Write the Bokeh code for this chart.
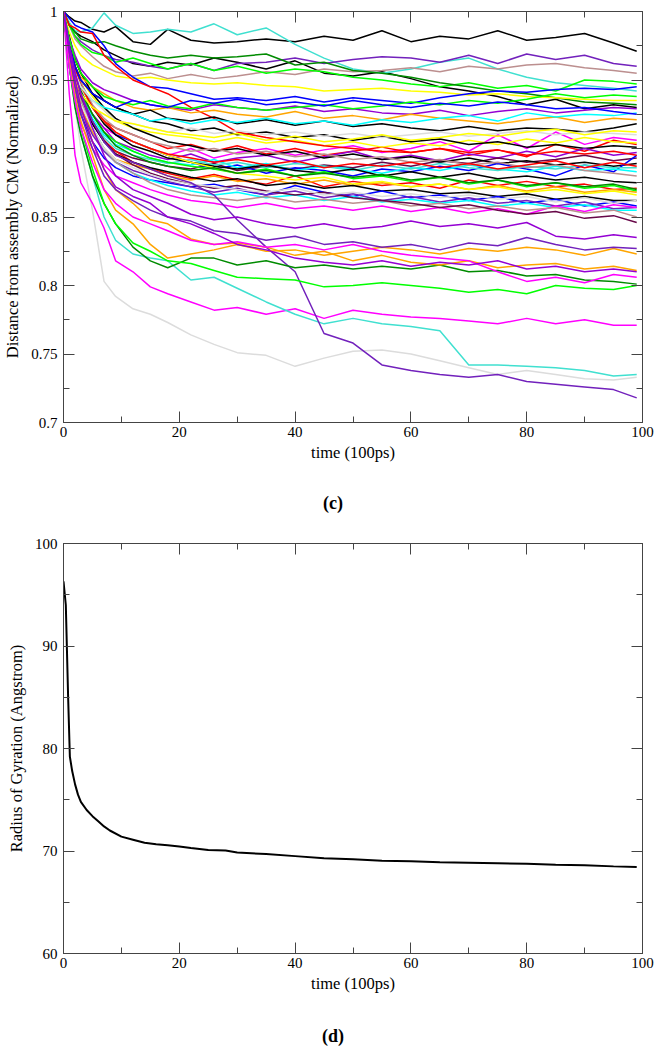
from bokeh.plotting import figure
from bokeh.models import Range1d, FixedTicker, LinearAxis, Div, NumeralTickFormatter
from bokeh.layouts import column
from bokeh.embed import file_html
from bokeh.resources import INLINE

# ---------------- data: panel (c) ----------------
time_c = [0, 1, 2, 3, 5, 7, 9, 12, 15, 18, 22, 26, 30, 35, 40, 45, 50, 55,
          60, 65, 70, 75, 80, 85, 90, 95, 99]

# upper group
black_a = [1, .996, .993, .992, .987, .985, .989, .978, .976, .987, .979, .977, .978, .98, .978, .982, .979, .986, .978, .982, .98, .986, .979, .981, .984, .977, .971]
black_b = [1, .99, .985, .982, .978, .972, .968, .962, .96, .963, .961, .966, .963, .958, .964, .955, .953, .956, .951, .945, .942, .938, .932, .936, .929, .932, .930]
turq_a = [1, .992, .986, .985, .988, .999, .99, .984, .985, .987, .985, .991, .983, .988, .976, .966, .958, .955, .958, .963, .966, .958, .952, .948, .946, .944, .942]
indigo_a = [1, .99, .982, .978, .972, .968, .965, .963, .96, .958, .962, .957, .962, .963, .966, .962, .965, .967, .966, .963, .968, .962, .969, .965, .968, .962, .96]
brown_a = [1, .99, .98, .975, .967, .96, .956, .953, .955, .951, .954, .951, .953, .956, .954, .958, .956, .957, .959, .956, .96, .958, .961, .962, .959, .957, .955]
green_a = [1, .99, .982, .976, .97, .968, .963, .966, .962, .958, .962, .957, .96, .955, .958, .956, .952, .95, .947, .945, .948, .944, .946, .942, .95, .949, .947]
green4_a = [1, .99, .985, .98, .977, .978, .975, .971, .968, .966, .968, .966, .967, .969, .961, .963, .957, .955, .952, .948, .945, .942, .94, .937, .934, .933, .932]
yellow_a = [1, .985, .975, .968, .961, .957, .953, .951, .952, .95, .948, .947, .948, .946, .945, .942, .943, .944, .942, .941, .939, .94, .938, .937, .936, .935, .935]
blue_a = [1, .995, .99, .988, .985, .975, .962, .952, .945, .944, .94, .936, .937, .935, .938, .934, .937, .935, .933, .937, .94, .942, .941, .943, .944, .943, .945]
red_a = [1, .99, .988, .985, .984, .968, .96, .95, .945, .94, .93, .922, .912, .908, .905, .902, .9, .898, .897, .9, .897, .899, .895, .898, .896, .898, .895]
violet_a = [1, .98, .968, .958, .948, .943, .94, .935, .932, .93, .928, .932, .93, .928, .931, .927, .929, .926, .925, .928, .924, .927, .929, .926, .928, .93, .929]
orange_a = [1, .975, .96, .952, .945, .94, .935, .93, .928, .93, .926, .928, .925, .923, .927, .922, .924, .921, .925, .922, .92, .918, .921, .923, .919, .922, .921]
black_c = [1, .975, .96, .95, .94, .935, .93, .925, .928, .922, .92, .923, .918, .921, .917, .92, .916, .918, .915, .913, .916, .913, .915, .914, .912, .915, .918]
cyan_a = [1, .97, .955, .945, .935, .93, .928, .925, .92, .922, .918, .921, .919, .922, .918, .92, .917, .921, .919, .922, .924, .92, .926, .923, .925, .924, .926]
green_b = [1, .98, .965, .955, .945, .938, .935, .932, .935, .931, .929, .933, .93, .928, .93, .932, .929, .931, .934, .932, .935, .933, .936, .94, .937, .939, .938]
grey_a = [1, .97, .955, .945, .935, .928, .92, .918, .915, .912, .915, .911, .913, .91, .912, .909, .911, .908, .91, .912, .909, .911, .913, .91, .912, .911, .91]
yellow_b = [1, .965, .95, .94, .93, .925, .92, .918, .915, .912, .91, .908, .911, .906, .909, .905, .907, .91, .906, .908, .911, .909, .912, .914, .91, .913, .912]
blue_b = [1, .975, .96, .95, .94, .935, .93, .935, .932, .93, .935, .933, .936, .932, .934, .931, .935, .932, .93, .933, .931, .934, .932, .929, .93, .927, .925]

# dense middle group
magenta_m = [1, .975, .955, .94, .925, .915, .91, .905, .9, .895, .9, .893, .897, .9, .895, .899, .902, .897, .9, .905, .898, .91, .9, .912, .903, .908, .906]
red_m1 = [1, .98, .96, .948, .93, .92, .915, .91, .905, .9, .903, .898, .902, .896, .9, .895, .898, .901, .897, .9, .895, .899, .894, .903, .898, .906, .903]
yellow_m = [1, .978, .96, .95, .938, .928, .92, .915, .912, .91, .908, .905, .908, .904, .906, .902, .905, .901, .904, .902, .906, .903, .907, .904, .908, .905, .904]
black_m1 = [1, .982, .965, .955, .945, .935, .93, .925, .92, .918, .913, .915, .91, .912, .908, .91, .906, .909, .905, .907, .903, .905, .901, .903, .9, .902, .901]
violet_m = [1, .975, .955, .942, .925, .915, .905, .9, .895, .892, .896, .89, .893, .895, .89, .894, .898, .892, .895, .891, .896, .893, .898, .894, .9, .895, .897]
maroon_m1 = [1, .97, .95, .935, .918, .905, .898, .893, .89, .887, .885, .889, .884, .887, .885, .888, .886, .89, .887, .891, .889, .893, .89, .892, .895, .891, .893]
black_m2 = [1, .98, .965, .955, .94, .93, .922, .915, .91, .905, .902, .898, .9, .895, .898, .893, .896, .892, .894, .89, .893, .889, .891, .888, .89, .887, .889]
blue_m1 = [1, .975, .958, .945, .93, .92, .91, .905, .9, .895, .89, .885, .888, .882, .886, .884, .88, .885, .883, .887, .884, .889, .885, .88, .888, .883, .895]
cyan_m1 = [1, .972, .952, .94, .922, .91, .903, .898, .893, .89, .888, .892, .886, .889, .884, .887, .885, .882, .886, .884, .888, .885, .883, .887, .884, .885, .883]
turq_m = [1, .97, .95, .936, .92, .908, .9, .895, .892, .889, .892, .888, .89, .886, .889, .887, .884, .888, .885, .889, .886, .884, .887, .885, .888, .886, .886]
black_m3 = [1, .975, .958, .946, .93, .918, .91, .902, .898, .893, .89, .887, .885, .888, .884, .882, .885, .88, .883, .879, .882, .878, .88, .877, .879, .876, .875]
red_m2 = [1, .972, .95, .935, .918, .906, .898, .89, .885, .882, .878, .881, .877, .874, .88, .872, .876, .873, .875, .871, .877, .873, .876, .872, .874, .87, .871]
green_m = [1, .97, .952, .94, .925, .912, .905, .898, .893, .89, .887, .885, .882, .885, .88, .883, .878, .88, .876, .879, .874, .877, .872, .875, .871, .873, .869]
orange_m = [1, .968, .945, .93, .912, .9, .892, .888, .885, .88, .877, .88, .876, .878, .874, .877, .873, .875, .872, .874, .87, .873, .869, .872, .868, .87, .868]
yellow_m2 = [1, .975, .955, .945, .93, .92, .912, .905, .9, .895, .89, .886, .882, .88, .877, .879, .874, .876, .872, .874, .87, .872, .868, .87, .867, .869, .866]
black_m4 = [1, .97, .948, .935, .918, .905, .896, .89, .886, .883, .879, .876, .878, .873, .875, .871, .873, .869, .87, .867, .868, .865, .867, .863, .865, .862, .862]
blue_m2 = [1, .965, .94, .925, .905, .893, .886, .88, .877, .875, .872, .874, .87, .866, .873, .868, .865, .869, .864, .866, .862, .865, .86, .863, .858, .861, .858]
indigo_m = [1, .97, .945, .928, .91, .898, .89, .884, .88, .876, .872, .868, .871, .866, .869, .864, .867, .862, .865, .861, .864, .86, .862, .858, .861, .856, .857]
cyan_m2 = [1, .972, .95, .935, .915, .9, .89, .882, .877, .873, .869, .866, .868, .864, .866, .862, .865, .861, .863, .86, .862, .858, .86, .857, .859, .855, .855]
magenta_m2 = [1, .96, .935, .918, .9, .888, .88, .875, .87, .866, .862, .86, .857, .86, .856, .858, .855, .858, .854, .857, .853, .856, .852, .858, .854, .859, .857]
brown_m1 = [1, .97, .95, .935, .915, .9, .89, .882, .875, .87, .866, .864, .862, .865, .861, .863, .86, .862, .858, .86, .856, .858, .855, .857, .853, .855, .85]
maroon_m2 = [1, .972, .952, .938, .92, .906, .896, .888, .882, .878, .874, .871, .873, .869, .866, .868, .864, .862, .86, .857, .859, .855, .852, .854, .849, .851, .846]
green4_m = [1, .975, .955, .942, .925, .912, .902, .895, .89, .887, .884, .886, .882, .884, .88, .882, .879, .881, .877, .879, .875, .877, .873, .875, .872, .874, .87]
brown_m2 = [1, .978, .96, .948, .932, .922, .915, .91, .905, .902, .898, .9, .896, .898, .894, .896, .892, .894, .89, .892, .888, .89, .886, .888, .884, .882, .88]
grey_m = [1, .97, .948, .932, .915, .9, .892, .886, .881, .877, .874, .872, .87, .868, .871, .866, .868, .865, .867, .864, .866, .863, .865, .861, .864, .86, .862]
red_m3 = [1, .975, .958, .946, .93, .92, .912, .905, .9, .896, .893, .89, .892, .888, .891, .886, .889, .887, .89, .886, .889, .885, .888, .891, .886, .89, .887]

# lower group
grey_low = [1, .965, .93, .9, .855, .803, .792, .783, .779, .773, .764, .757, .751, .749, .741, .747, .752, .753, .75, .745, .74, .735, .738, .735, .732, .731, .733]
magenta_low = [1, .94, .895, .875, .86, .842, .818, .81, .799, .794, .788, .782, .784, .779, .783, .776, .782, .779, .777, .776, .774, .772, .776, .772, .775, .771, .771]
turq_low = [1, .96, .93, .91, .88, .85, .833, .823, .82, .818, .804, .806, .798, .788, .779, .772, .776, .772, .77, .767, .742, .742, .741, .74, .738, .734, .735]
indigo_low = [1, .975, .955, .94, .92, .905, .895, .89, .885, .88, .875, .866, .848, .828, .81, .765, .758, .742, .738, .735, .733, .735, .73, .728, .726, .724, .718]
green4_low = [1, .96, .93, .91, .88, .86, .845, .828, .818, .813, .82, .82, .815, .818, .813, .815, .812, .814, .812, .815, .81, .811, .807, .808, .804, .803, .801]
green_low = [1, .96, .935, .915, .885, .86, .845, .831, .825, .818, .816, .811, .806, .805, .804, .799, .8, .802, .8, .798, .795, .797, .794, .8, .798, .797, .8]
orange_low1 = [1, .965, .94, .92, .895, .87, .855, .845, .83, .82, .823, .826, .83, .825, .826, .822, .825, .828, .826, .823, .827, .825, .828, .826, .822, .827, .823]
orange_low2 = [1, .97, .95, .93, .905, .885, .87, .86, .848, .845, .834, .83, .831, .828, .822, .825, .818, .822, .817, .815, .818, .813, .815, .816, .812, .814, .811]
violet_low1 = [1, .975, .955, .94, .915, .895, .88, .87, .865, .86, .852, .848, .85, .845, .842, .845, .841, .843, .847, .843, .845, .842, .846, .836, .834, .837, .835]
indigo_low2 = [1, .97, .945, .925, .9, .88, .87, .862, .855, .85, .847, .84, .838, .833, .836, .83, .832, .828, .83, .826, .831, .829, .835, .83, .826, .828, .827]
magenta_low2 = [1, .96, .935, .915, .89, .87, .86, .85, .845, .84, .833, .83, .832, .828, .83, .826, .83, .825, .822, .82, .818, .81, .803, .806, .802, .808, .806]
violet_low2 = [1, .97, .95, .93, .905, .885, .872, .865, .86, .85, .845, .838, .83, .826, .82, .817, .815, .818, .814, .817, .815, .818, .812, .814, .81, .812, .81]

# ---------------- data: panel (d) ----------------
time_d = [0, 0.4, 0.8, 1.1, 1.5, 2, 2.5, 3, 4, 5, 6, 7, 8, 10, 12, 14, 16, 18, 20, 22,
          25, 28, 30, 35, 40, 45, 50, 55, 60, 65, 70, 75, 80, 85, 90, 95, 99]
rg_d = [96.3, 94.0, 85.0, 79.2, 77.8, 76.5, 75.5, 74.8, 74.0, 73.4, 72.9, 72.4, 72.0, 71.4,
        71.1, 70.8, 70.65, 70.55, 70.45, 70.3, 70.1, 70.05, 69.85, 69.7, 69.5, 69.3, 69.2,
        69.05, 69.0, 68.9, 68.85, 68.8, 68.75, 68.65, 68.6, 68.5, 68.45]

x_major = [0, 20, 40, 60, 80, 100]
x_minor = [10, 30, 50, 70, 90]
yc_major = [0.7, 0.75, 0.8, 0.85, 0.9, 0.95, 1.0]
yc_minor = [0.725, 0.775, 0.825, 0.875, 0.925, 0.975]
yd_major = [60, 70, 80, 90, 100]
yd_minor = [65, 75, 85, 95]

# ---------------- styles ----------------
BLACK = "#000000"; RED = "#ff0000"; GREEN = "#00ff00"; BLUE = "#0000ff"
YELLOW = "#ffff00"; BROWN = "#bc8f8f"; GREY = "#dcdcdc"; VIOLET = "#9400d3"
CYAN = "#00ffff"; MAGENTA = "#ff00ff"; ORANGE = "#ffa500"; INDIGO = "#7221bc"
MAROON = "#670748"; TURQ = "#40e0d0"; GREEN4 = "#008b00"

series_c = [
    (magenta_m, MAGENTA), (red_m1, RED), (yellow_m, YELLOW), (black_m1, BLACK),
    (violet_m, VIOLET), (maroon_m1, MAROON), (black_m2, BLACK), (blue_m1, BLUE),
    (cyan_m1, CYAN), (turq_m, TURQ), (black_m3, BLACK), (red_m2, RED),
    (green_m, GREEN), (orange_m, ORANGE), (yellow_m2, YELLOW), (black_m4, BLACK),
    (blue_m2, BLUE), (indigo_m, INDIGO), (cyan_m2, CYAN), (magenta_m2, MAGENTA),
    (brown_m1, BROWN), (maroon_m2, MAROON), (green4_m, GREEN4), (brown_m2, BROWN),
    (grey_m, GREY), (red_m3, RED),
    (black_a, BLACK), (black_b, BLACK), (turq_a, TURQ), (indigo_a, INDIGO),
    (brown_a, BROWN), (green_a, GREEN), (green4_a, GREEN4), (yellow_a, YELLOW),
    (blue_a, BLUE), (red_a, RED), (violet_a, VIOLET), (orange_a, ORANGE),
    (black_c, BLACK), (cyan_a, CYAN), (green_b, GREEN), (grey_a, GREY),
    (yellow_b, YELLOW), (blue_b, BLUE),
    (grey_low, GREY), (magenta_low, MAGENTA), (turq_low, TURQ), (indigo_low, INDIGO),
    (green4_low, GREEN4), (green_low, GREEN), (orange_low1, ORANGE), (orange_low2, ORANGE),
    (violet_low1, VIOLET), (indigo_low2, INDIGO), (magenta_low2, MAGENTA), (violet_low2, VIOLET),
]

FONT = "Liberation Serif"
AXC = "#444444"


def dress(p, xmaj, xmin, ymaj, ymin, xlabel, ylabel, yfmt=None):
    p.xgrid.visible = False
    p.ygrid.visible = False
    p.outline_line_color = AXC
    p.add_layout(LinearAxis(), "right")
    p.add_layout(LinearAxis(), "above")
    for ax in p.xaxis:
        ax.ticker = FixedTicker(ticks=xmaj, minor_ticks=xmin)
    for ax in p.yaxis:
        ax.ticker = FixedTicker(ticks=ymaj, minor_ticks=ymin)
        if yfmt is not None:
            ax.formatter = yfmt
    for ax in list(p.xaxis) + list(p.yaxis):
        ax.axis_line_color = AXC
        ax.major_tick_line_color = AXC
        ax.minor_tick_line_color = AXC
        ax.major_tick_in = 11
        ax.major_tick_out = 0
        ax.minor_tick_in = 6
        ax.minor_tick_out = 0
        ax.major_label_text_font = FONT
        ax.major_label_text_font_size = "15px"
        ax.major_label_text_color = "black"
        ax.axis_label_text_font = FONT
        ax.axis_label_text_font_size = "16.5px"
        ax.axis_label_text_font_style = "normal"
        ax.axis_label_text_color = "black"
    # mirror axes: ticks only, no labels drawn
    for ax in (p.right[0], p.above[0]):
        ax.major_label_text_color = None
        ax.major_label_text_alpha = 0
        ax.major_label_text_font_size = "1px"
        ax.major_label_standoff = 0
    p.below[0].axis_label = xlabel
    p.below[0].major_label_standoff = 4
    p.below[0].axis_label_standoff = 3
    p.left[0].axis_label = ylabel
    p.left[0].major_label_standoff = 6
    p.left[0].axis_label_standoff = 6


# panel (c)
pc = figure(width=666, height=470, output_backend="svg", toolbar_location=None,
            x_range=Range1d(0, 100), y_range=Range1d(0.7, 1.0),
            min_border_left=62, min_border_right=18, min_border_top=11, min_border_bottom=48)
for vals, col in series_c:
    pc.line(time_c, vals, line_color=col, line_width=1.5)
dress(pc, x_major, x_minor, yc_major, yc_minor, "time (100ps)",
      "Distance from assembly CM (Normalized)", NumeralTickFormatter(format="0.[00]"))

label_c = Div(text='<div style="font-family:\'Liberation Serif\';font-weight:bold;font-size:18px;'
                   'line-height:18px;text-align:center;padding-top:24px;width:666px">(c)</div>',
              width=666, height=60, margin=0)

# panel (d)
pd_ = figure(width=666, height=466, output_backend="svg", toolbar_location=None,
             x_range=Range1d(0, 100), y_range=Range1d(60, 100),
             min_border_left=55, min_border_right=24, min_border_top=13, min_border_bottom=43)
pd_.line(time_d, rg_d, line_color="black", line_width=2)
dress(pd_, x_major, x_minor, yd_major, yd_minor, "time (100ps)",
      "Radius of Gyration (Angstrom)")

label_d = Div(text='<div style="font-family:\'Liberation Serif\';font-weight:bold;font-size:18px;'
                   'line-height:18px;text-align:center;padding-top:31px;width:666px">(d)</div>',
              width=666, height=54, margin=0)

layout = column(pc, label_c, pd_, label_d, spacing=0)
open("out.html", "w").write(file_html(layout, INLINE))
